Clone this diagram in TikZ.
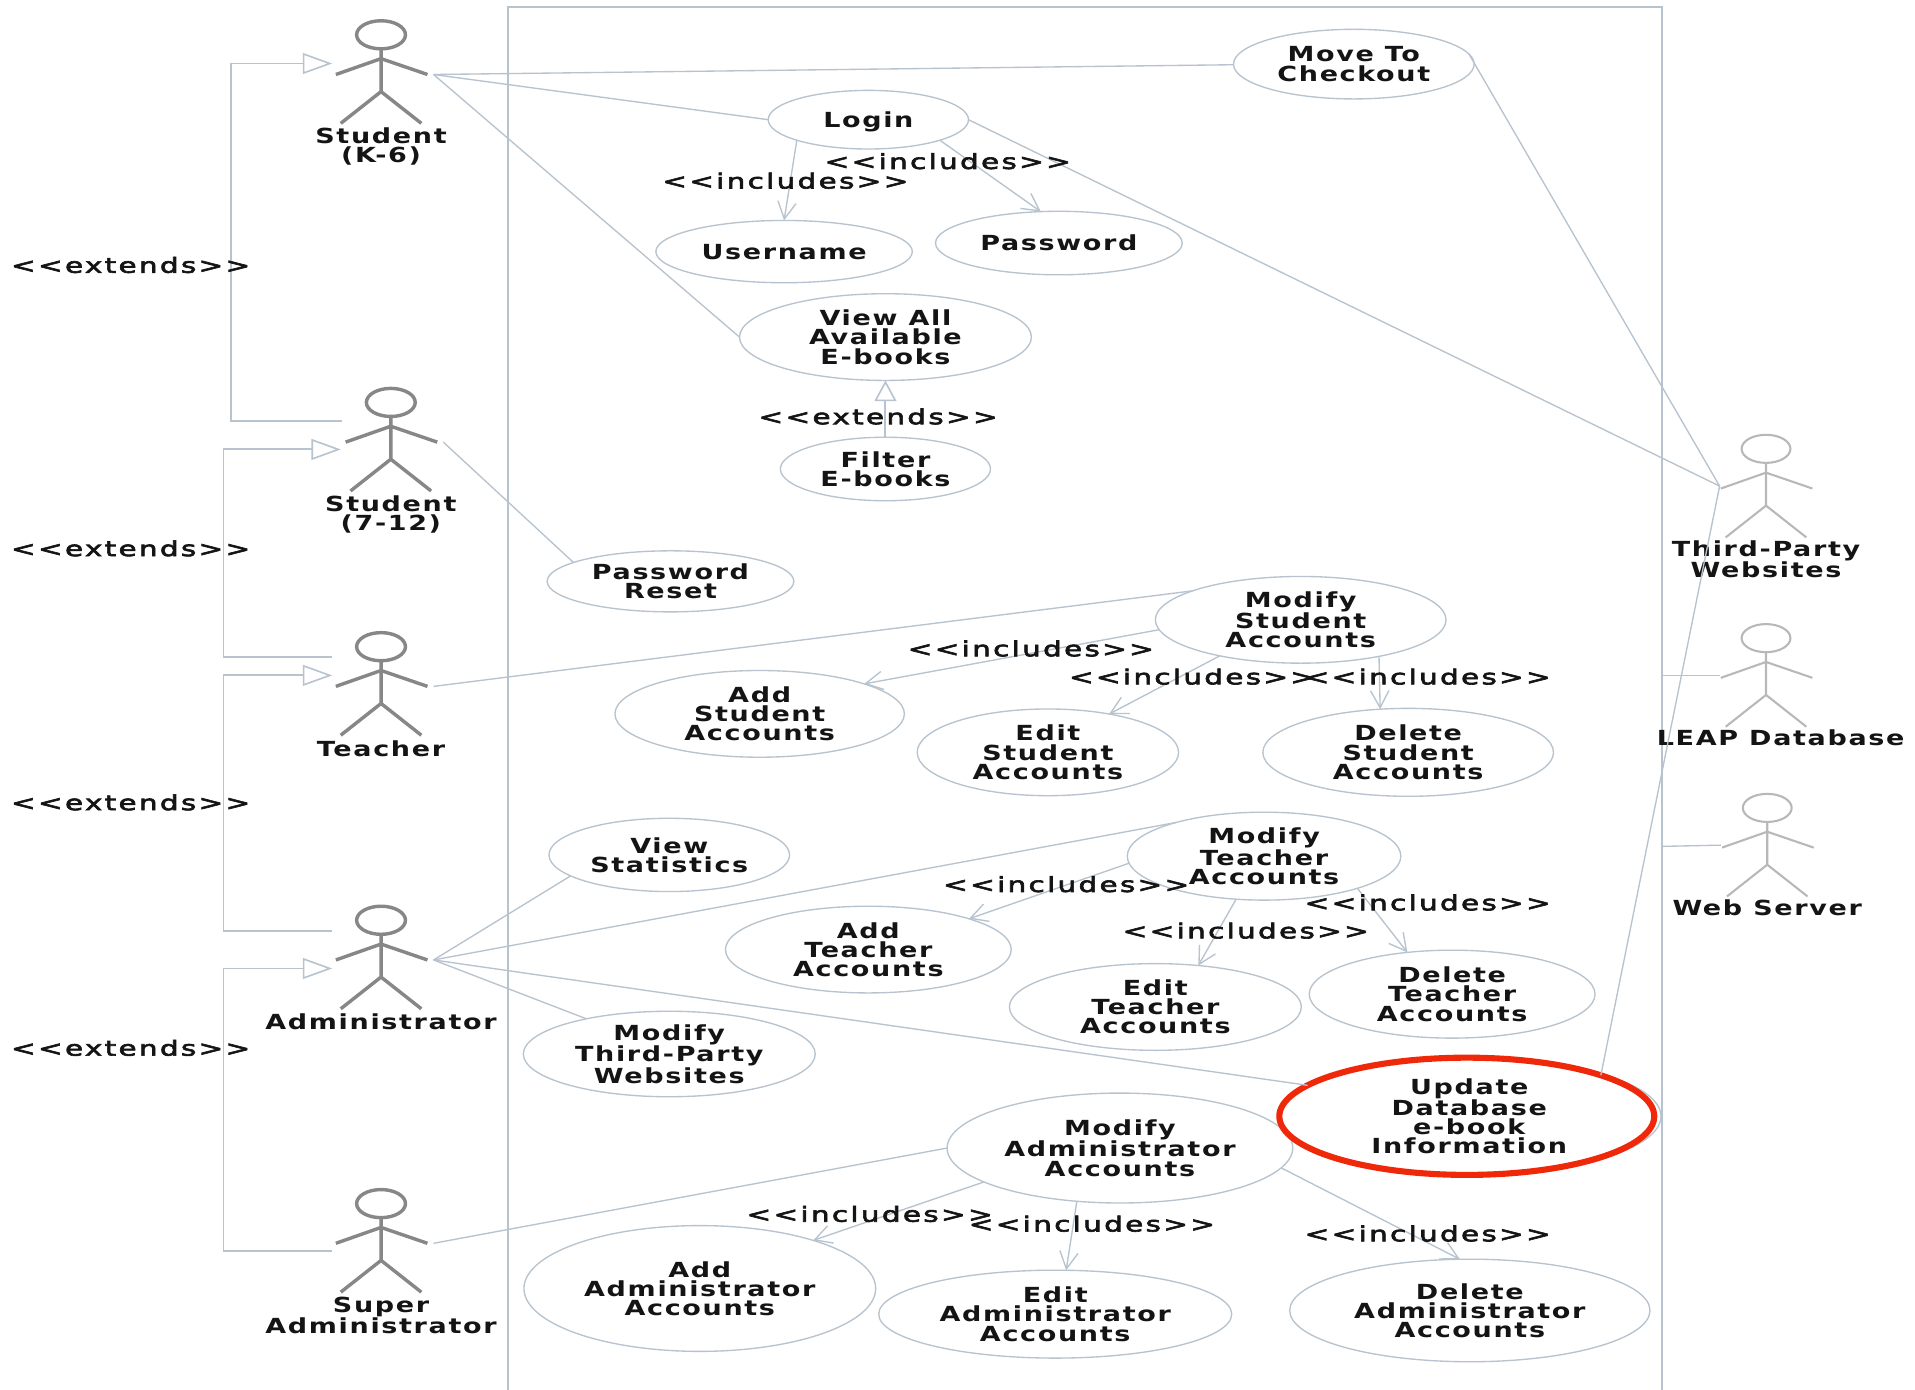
\documentclass[tikz,border=0pt]{standalone}
\usepackage{fontspec}
\usetikzlibrary{shapes.geometric,arrows.meta}
\newfontfamily\ucfont[FakeStretch=1.3,LetterSpace=8]{DejaVu Sans Bold}
\newfontfamily\lblfont[FakeStretch=1.42,FakeBold=3,LetterSpace=11]{DejaVu Sans}
\definecolor{wire}{HTML}{B7C3CE}
\definecolor{ink}{HTML}{141414}
\definecolor{redring}{HTML}{F0280A}
\tikzset{
  uc/.style={draw=wire,line width=1.1pt,ellipse,inner sep=0pt,outer sep=0pt,align=center,text=ink,
    font=\ucfont\fontsize{17}{15.7}\selectfont},
  plain/.style={uc,draw=none,shape=rectangle},
  lbl/.style={inner sep=0pt,text=ink,font=\lblfont\fontsize{17}{16}\selectfont},
  link/.style={draw=wire,line width=1.1pt},
  inc/.style={link,-{Straight Barb[length=14pt,width=15pt]}},
  gen/.style={draw=wire,line width=1.6pt,-{Triangle[open,length=24pt,width=17pt,line width=1.3pt]}},
  genup/.style={draw=wire,line width=1.6pt,-{Triangle[open,length=17pt,width=18pt,line width=1.3pt]}},
  frame/.style={draw=wire,line width=1.9pt},
  leftactor/.style={draw=black!47,line width=2.8pt},
  rightactor/.style={draw=black!28,line width=1.7pt},
}
\newcommand{\actor}[4]{% name, cx, top, style
  \draw[#4] (#2,#3+11.5) ellipse[x radius=20,y radius=11.5];
  \draw[#4] (#2,#3+23) -- (#2,#3+58) (#2-37,#3+44) -- (#2,#3+31) -- (#2+38,#3+44)
            (#2-33,#3+84) -- (#2,#3+58) -- (#2+33,#3+84);
  \coordinate (#1-r) at (#2+43,#3+44);
  \coordinate (#1-l) at (#2-38,#3+42);
}
\begin{document}
\begin{tikzpicture}[x=1pt,y=-1pt]
\useasboundingbox (0,0) rectangle (1568,1138);
\fill[white] (0,0) rectangle (1568,1138);
% system boundary
\coordinate (bTL) at (416,6); \coordinate (bTR) at (1361,6);
\coordinate (bBL) at (416,1138); \coordinate (bBR) at (1361,1138);
\draw[frame] (bBL) -- (bTL) -- (bTR) -- (bBR);
% actors
\actor{k6}{312}{17}{leftactor}
\actor{s712}{320}{318}{leftactor}
\actor{teacher}{312}{518}{leftactor}
\actor{admin}{312}{742}{leftactor}
\actor{super}{312}{974}{leftactor}
\actor{third}{1446}{356}{rightactor}
\actor{leap}{1446}{511}{rightactor}
\actor{web}{1447}{650}{rightactor}
\node[plain] (lk6) at (312,120) {Student\\(K-6)};
\node[plain] (ls712) at (320,421) {Student\\(7-12)};
\node[plain] (lteacher) at (312,613) {Teacher};
\node[plain] (ladmin) at (312,837) {Administrator};
\node[plain] (lsuper) at (312,1077) {Super\\Administrator};
\node[plain] (lthird) at (1446,458) {Third-Party\\Websites};
\node[plain] (lleap) at (1458,604) {LEAP Database};
\node[plain] (lweb) at (1447,743) {Web Server};
% use cases
\node[uc,minimum width=197pt,minimum height=57pt] (move) at (1108.5,52.5) {Move To\\Checkout};
\node[uc,minimum width=164pt,minimum height=48pt] (login) at (711,98) {};
\node[plain] (logintext) at (711,100) {Login};
\node[uc,minimum width=210pt,minimum height=51pt] (user) at (642,206) {Username};
\node[uc,minimum width=202pt,minimum height=52pt] (pass) at (867,199) {Password};
\node[uc,minimum width=239pt,minimum height=71pt] (viewall) at (725,276) {View All\\Available\\E-books};
\node[uc,minimum width=172pt,minimum height=52pt] (filter) at (725,384) {Filter\\E-books};
\node[uc,minimum width=202pt,minimum height=50pt] (reset) at (549,476) {Password\\Reset};
\node[uc,minimum width=238pt,minimum height=71pt] (mstud) at (1065,507.5) {Modify\\Student\\Accounts};
\node[uc,minimum width=237pt,minimum height=71pt] (astud) at (622,584.5) {Add\\Student\\Accounts};
\node[uc,minimum width=214pt,minimum height=71pt] (estud) at (858,616) {Edit\\Student\\Accounts};
\node[uc,minimum width=238pt,minimum height=72pt] (dstud) at (1153,616) {Delete\\Student\\Accounts};
\node[uc,minimum width=197pt,minimum height=60pt] (stats) at (548,700) {View\\Statistics};
\node[uc,minimum width=224pt,minimum height=72pt] (mteach) at (1035,701) {Modify\\Teacher\\Accounts};
\node[uc,minimum width=234pt,minimum height=71pt] (ateach) at (711,777.5) {Add\\Teacher\\Accounts};
\node[uc,minimum width=239pt,minimum height=71pt] (eteach) at (946,824.5) {Edit\\Teacher\\Accounts};
\node[uc,minimum width=234pt,minimum height=72pt] (dteach) at (1189,814) {Delete\\Teacher\\Accounts};
\node[uc,minimum width=239pt,minimum height=70pt] (mthird) at (548,863) {Modify\\Third-Party\\Websites};
\node[uc,minimum width=283pt,minimum height=90pt] (madmin) at (917,940) {Modify\\Administrator\\Accounts};
\node[uc,minimum width=288pt,minimum height=103pt] (aadmin) at (573,1055) {Add\\Administrator\\Accounts};
\node[uc,minimum width=289pt,minimum height=72pt] (eadmin) at (864,1076) {Edit\\Administrator\\Accounts};
\node[uc,minimum width=295pt,minimum height=84pt] (dadmin) at (1203.5,1073) {Delete\\Administrator\\Accounts};
\node[uc,minimum width=314pt,minimum height=96pt] (updgrey) at (1203,914) {};
\node[uc,draw=redring,line width=5pt,minimum width=307pt,minimum height=96pt] (update) at (1201,914) {};
\node[plain] (updtext) at (1203,914) {Update\\Database\\e-book\\Information};
% associations
\draw[link] (k6-r) -- (move.west |- 0,53);
\draw[link] (k6-r) -- (login.west);
\draw[link] (k6-r) -- (viewall.west);
\draw[link] (login.east) -- (third-l);
\draw[link] (move.5) -- (third-l);
\draw[link] (update.17) -- (third-l);
\draw[link] (s712-r) -- (reset.169);
\draw[link] (teacher-r) -- (mstud.165);
\draw[link] (admin-r) -- (stats.192);
\draw[link] (admin-r) -- (mteach.159);
\draw[link] (admin-r) -- (update.169);
\draw[link] (admin-r) -- (mthird.157);
\draw[link] (super-r) -- (madmin.west);
\coordinate (leapB) at (1361,553); \coordinate (webB) at (1361,693);
\draw[link] (leapB) -- (leap-l);
\draw[link] (webB) -- (web-l);
% includes
\draw[inc] (login.196) -- (user.north);
\draw[inc] (login.344) -- (pass.120);
\draw[inc] (mstud.184) -- (astud.16);
\draw[inc] (mstud.204) -- (estud.32);
\draw[inc] (mstud.335) -- (dstud.123);
\draw[inc] (mteach.183) -- (ateach.17);
\draw[inc] (mteach.237) -- (eteach.44);
\draw[inc] (mteach.341) -- (dteach.137);
\draw[inc] (madmin.194) -- (aadmin.23);
\draw[inc] (madmin.231) -- (eadmin.76);
\draw[inc] (madmin.353) -- (dadmin.101);
\draw[genup] (filter.north) -- (viewall.south);
% generalisations
\coordinate (g1a) at (280,345); \coordinate (g1b) at (272,52);
\coordinate (g2a) at (272,538); \coordinate (g2b) at (279,368);
\coordinate (g3a) at (272,762); \coordinate (g3b) at (272,553);
\coordinate (g4a) at (272,1024); \coordinate (g4b) at (272,793);
\draw[gen] (g1a) -- (189,345) -- (189,52) -- (g1b);
\draw[gen] (g2a) -- (183,538) -- (183,368) -- (g2b);
\draw[gen] (g3a) -- (183,762) -- (183,553) -- (g3b);
\draw[gen] (g4a) -- (183,1024) -- (183,793) -- (g4b);
% labels
\node[lbl] (e1) at (107,217) {<<extends>>};
\node[lbl] (e2) at (107,449) {<<extends>>};
\node[lbl] (e3) at (107,657) {<<extends>>};
\node[lbl] (e4) at (107,858) {<<extends>>};
\node[lbl] (e5) at (719,341) {<<extends>>};
\node[lbl] (i1) at (643,148) {<<includes>>};
\node[lbl] (i2) at (776,132) {<<includes>>};
\node[lbl] (i3) at (844,531) {<<includes>>};
\node[lbl] (i4) at (976,554) {<<includes>>};
\node[lbl] (i5) at (1169,554) {<<includes>>};
\node[lbl] (i6) at (873,724) {<<includes>>};
\node[lbl] (i7) at (1020,762) {<<includes>>};
\node[lbl] (i8) at (1169,739) {<<includes>>};
\node[lbl] (i9) at (712,994) {<<includes>>};
\node[lbl] (i10) at (894,1002) {<<includes>>};
\node[lbl] (i11) at (1169,1010) {<<includes>>};
\end{tikzpicture}
\end{document}
